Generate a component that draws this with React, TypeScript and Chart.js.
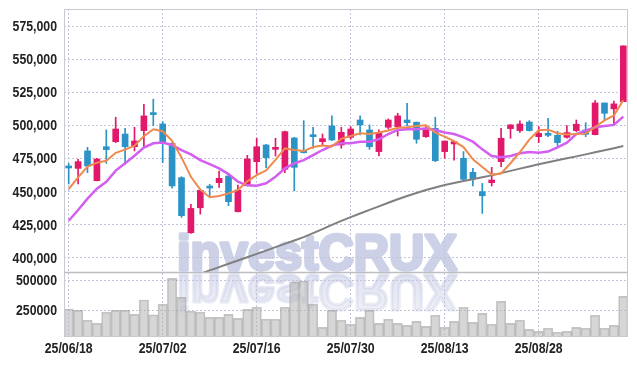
import React, { useEffect, useRef } from 'react';
import { Chart, registerables } from 'chart.js';

Chart.register(...registerables);

// ---- data ----
const DATES = [
  '25/06/18', '25/06/19', '25/06/20', '25/06/23', '25/06/24', '25/06/25', '25/06/26', '25/06/27', '25/06/30', '25/07/01',
  '25/07/02', '25/07/03', '25/07/04', '25/07/07', '25/07/08', '25/07/09', '25/07/10', '25/07/11', '25/07/14', '25/07/15',
  '25/07/16', '25/07/17', '25/07/18', '25/07/21', '25/07/22', '25/07/23', '25/07/24', '25/07/25', '25/07/28', '25/07/29',
  '25/07/30', '25/07/31', '25/08/01', '25/08/04', '25/08/05', '25/08/06', '25/08/07', '25/08/08', '25/08/11', '25/08/12',
  '25/08/13', '25/08/14', '25/08/18', '25/08/19', '25/08/20', '25/08/21', '25/08/22', '25/08/25', '25/08/26', '25/08/27',
  '25/08/28', '25/08/29', '25/09/01', '25/09/02', '25/09/03', '25/09/04', '25/09/05', '25/09/08', '25/09/09', '25/09/10',
];

const OPEN = [
  468200, 467400, 480600, 458100, 483800, 487600, 493400, 483800, 496000, 508600,
  501000, 486400, 460400, 418700, 437600, 453300, 456600, 461600, 434600, 454300,
  472500, 485100, 481800, 466700, 490400, 480800, 492700, 487600, 499500, 485100,
  490900, 504000, 496500, 480100, 498500, 499000, 504000, 502300, 491400, 497700,
  480100, 485900, 475000, 464400, 449800, 456600, 472500, 497500, 496000, 502500,
  491400, 493900, 492400, 490900, 496000, 496500, 492900, 516900, 512400, 517900,
];
const HIGH = [
  471200, 474300, 483300, 475000, 496500, 506100, 497700, 498500, 515900, 519700,
  502800, 486900, 461100, 440200, 451000, 455300, 465400, 462100, 454800, 477300,
  490200, 485600, 490200, 495700, 490900, 503500, 498500, 493400, 507100, 498500,
  499000, 507100, 500300, 496500, 504800, 509100, 516700, 502500, 499000, 506100,
  488100, 488100, 480100, 467400, 456100, 468200, 497700, 500500, 503300, 503500,
  499000, 505300, 495500, 499800, 504000, 502000, 518700, 516900, 518400, 560100,
];
const LOW = [
  455600, 455600, 464200, 458000, 471200, 486900, 470500, 480600, 483800, 499800,
  471700, 452500, 430300, 418200, 432800, 446000, 453000, 439200, 434400, 454100,
  463600, 467900, 476800, 464200, 450500, 479000, 482600, 485100, 488400, 482600,
  489400, 492700, 481800, 476800, 497200, 491900, 499500, 486400, 490900, 472500,
  475000, 473700, 458600, 454100, 433300, 454100, 468700, 490200, 494700, 495700,
  486900, 491400, 484400, 490200, 495200, 491400, 492700, 504000, 500300, 517900,
];
const CLOSE = [
  467700, 472500, 469200, 474500, 481600, 497200, 483800, 488100, 507100, 508100,
  487400, 454100, 431600, 437100, 450800, 452500, 459900, 442200, 451000, 474500,
  483800, 475500, 483300, 495200, 468200, 479300, 491400, 489900, 488900, 494700,
  497200, 500300, 483800, 493900, 504000, 507100, 502000, 489400, 497700, 473200,
  488100, 487600, 459100, 459600, 446700, 458600, 490200, 500300, 501000, 496000,
  493900, 492400, 486900, 494500, 500800, 493200, 516900, 509100, 516200, 560100,
];
const VOLUME = [
  261000, 250000, 168000, 143000, 234000, 250000, 250000, 217000, 335000, 212000,
  300000, 514000, 357000, 242000, 234000, 192000, 192000, 217000, 184000, 258000,
  275000, 176000, 176000, 275000, 484000, 492000, 300000, 110000, 250000, 168000,
  135000, 192000, 250000, 143000, 176000, 143000, 126000, 159000, 118000, 209000,
  110000, 159000, 275000, 151000, 225000, 135000, 324000, 143000, 168000, 93000,
  77000, 102000, 69000, 77000, 110000, 102000, 209000, 102000, 126000, 365000,
];
const MA5 = [
  451800, 460600, 468700, 471700, 473200, 479200, 481600, 484600, 491800, 497000,
  495500, 488300, 475700, 461000, 451300, 445600, 446500, 448500, 451100, 457600,
  462300, 465800, 473900, 482500, 481300, 480500, 483600, 484800, 484000, 489700,
  491900, 494000, 493400, 494600, 496100, 498100, 498600, 499500, 500100, 494500,
  491400, 488000, 483500, 474200, 468400, 462700, 463500, 471300, 479700, 489200,
  496300, 496700, 494000, 493000, 493500, 493700, 498700, 503700, 507500, 518900,
];
const MA10 = [
  427800, 435900, 444500, 452000, 457300, 465700, 471200, 477000, 483100, 486400,
  486900, 485100, 481300, 478000, 473700, 470700, 467400, 463100, 457300, 454600,
  454300, 456100, 461100, 467400, 471200, 473700, 477500, 481300, 484600, 486400,
  486400, 487600, 487600, 489400, 493400, 496500, 497000, 497000, 497500, 496500,
  494500, 493400, 490900, 487600, 481800, 476800, 475800, 476800, 478800, 479800,
  479300, 480100, 483300, 486900, 493400, 496000, 498500, 499500, 500300, 506600,
];
const MA60 = [
  null, null, null, null, null, null, null, null, null, null,
  null, null, null, 385200, 387700, 390200, 392700, 395200, 397700, 400200,
  402700, 405200, 407800, 410300, 412800, 415400, 418400, 421500, 424600, 427700,
  430500, 433300, 436000, 438700, 441400, 444000, 446500, 448800, 451000, 452900,
  454800, 456300, 457800, 459200, 460700, 462100, 463800, 465500, 467200, 468900,
  470600, 472000, 473500, 475000, 476500, 478000, 479600, 481100, 482700, 484300,
];
const PRICE_TICKS = [400000, 425000, 450000, 475000, 500000, 525000, 550000, 575000];
const VOLUME_TICKS = [250000, 500000];
const PRICE_MIN = 389000;
const PRICE_MAX = 588000;
const VOLUME_MIN = 30000;
const VOLUME_MAX = 566000;
const LABEL_EVERY = 10;
const WATERMARK = 'investCRUX';

// ---- styles ----
const UP = '#e2186b';
const DOWN = '#2b93c6';
const GRID = '#c3c3da';
const FRAME = '#c9c9cf';
const TEXT = '#222222';
const LABEL_FONT = 'bold 15px "Liberation Sans", Arial, sans-serif';
const NARROW = 0.82;

const fmtPrice = (v: number) => v.toLocaleString('en-US');
const fmtVolume = (v: number) => String(v);

const watermarkPlugin = {
  id: 'wm',
  beforeDraw(chart: any) {
    const { ctx } = chart;
    const py = chart.scales.y;
    const base = py.bottom - 2;
    const left = 169;
    ctx.save();
    ctx.font = 'bold 52px "Liberation Sans", Arial, sans-serif';
    ctx.textBaseline = 'alphabetic';
    ctx.lineJoin = 'round';
    const w = ctx.measureText(WATERMARK).width;
    const sx = 280 / w;
    const sy = 36 / (52 * 0.716);
    ctx.save();
    ctx.translate(left, base);
    ctx.scale(sx, sy);
    ctx.fillStyle = 'rgb(204,209,231)';
    ctx.strokeStyle = 'rgb(204,209,231)';
    ctx.lineWidth = 3.5;
    ctx.fillText(WATERMARK, 0, 0);
    ctx.strokeText(WATERMARK, 0, 0);
    ctx.restore();
    ctx.save();
    ctx.beginPath();
    ctx.rect(0, py.bottom, chart.width, 60);
    ctx.clip();
    ctx.translate(left, py.bottom + 3);
    ctx.scale(sx, -sy);
    const g = ctx.createLinearGradient(0, 0, 0, -40);
    g.addColorStop(0, 'rgba(204,209,231,0.6)');
    g.addColorStop(1, 'rgba(204,209,231,0.3)');
    ctx.fillStyle = g;
    ctx.strokeStyle = g;
    ctx.lineWidth = 3.5;
    ctx.fillText(WATERMARK, 0, 0);
    ctx.strokeText(WATERMARK, 0, 0);
    ctx.restore();
    ctx.restore();
  },
};

const framePlugin = {
  id: 'frame',
  afterDatasetsDraw(chart: any) {
    const { ctx, chartArea } = chart;
    const sep = chart.scales.y.bottom;
    const l = Math.round(chartArea.left) + 0.5;
    const r = Math.round(chartArea.right) - 0.5;
    const t = Math.round(chartArea.top) + 0.5;
    const b = Math.round(chartArea.bottom) - 0.5;
    const s = Math.round(sep) + 0.5;
    ctx.save();
    ctx.strokeStyle = FRAME;
    ctx.lineWidth = 1;
    ctx.beginPath();
    ctx.moveTo(l, t); ctx.lineTo(r, t);
    ctx.moveTo(l, t); ctx.lineTo(l, b);
    ctx.moveTo(r, t); ctx.lineTo(r, b);
    ctx.moveTo(l, b); ctx.lineTo(r, b);
    ctx.stroke();
    ctx.strokeStyle = '#bdbdc2';
    ctx.lineWidth = 1.5;
    ctx.beginPath();
    ctx.moveTo(l, s); ctx.lineTo(r, s);
    ctx.stroke();
    ctx.restore();
  },
};

// tick labels drawn in a narrow face (horizontally condensed), positioned by the scales
const labelPlugin = {
  id: 'narrowLabels',
  afterDraw(chart: any) {
    const { ctx, chartArea } = chart;
    const put = (text: string, x: number, y: number, align: CanvasTextAlign) => {
      ctx.save();
      ctx.translate(x, y);
      ctx.scale(NARROW, 1);
      ctx.textAlign = align;
      ctx.textBaseline = 'middle';
      ctx.fillText(text, 0, 0);
      ctx.restore();
    };
    ctx.save();
    ctx.font = LABEL_FONT;
    ctx.fillStyle = TEXT;
    const py = chart.scales.y;
    const vy = chart.scales.yv;
    const xs = chart.scales.x;
    const lx = chartArea.left - 7;
    PRICE_TICKS.forEach((v) => put(fmtPrice(v), lx, py.getPixelForValue(v) + 1, 'right'));
    VOLUME_TICKS.forEach((v) => put(fmtVolume(v), lx, vy.getPixelForValue(v) + 1, 'right'));
    DATES.forEach((d, i) => {
      if (i % LABEL_EVERY === 0) put(d, xs.getPixelForValue(i), chartArea.bottom + 12, 'center');
    });
    ctx.restore();
  },
};

export default function App() {
  const ref = useRef<HTMLCanvasElement>(null);
  useEffect(() => {
    if (!ref.current) return;
    const candleColors = CLOSE.map((c, i) => (c >= OPEN[i] ? UP : DOWN));
    const chart = new Chart(ref.current, {
      type: 'bar',
      data: {
        labels: DATES,
        datasets: [
          {
            type: 'line', label: 'MA5', data: MA5, borderColor: '#ef8a4e', borderWidth: 2,
            pointRadius: 0, yAxisID: 'y', order: 0, tension: 0,
          } as any,
          {
            type: 'line', label: 'MA10', data: MA10, borderColor: '#d35ef0', borderWidth: 2.5,
            pointRadius: 0, yAxisID: 'y', order: 0, tension: 0,
          } as any,
          {
            type: 'line', label: 'MA60', data: MA60, borderColor: '#808080', borderWidth: 2,
            pointRadius: 0, yAxisID: 'y', order: 0, tension: 0,
          } as any,
          {
            type: 'bar', label: 'body', data: OPEN.map((o, i) => [o, CLOSE[i]]),
            backgroundColor: candleColors, barThickness: 6, grouped: false, yAxisID: 'y',
            order: 1, minBarLength: 2,
          } as any,
          {
            type: 'bar', label: 'wick', data: LOW.map((l, i) => [l, HIGH[i]]),
            backgroundColor: candleColors, barThickness: 1, grouped: false, yAxisID: 'y', order: 2,
          } as any,
          {
            type: 'bar', label: 'volume', data: VOLUME,
            backgroundColor: 'rgba(180,180,180,0.55)', borderColor: 'rgba(150,150,150,0.55)',
            borderWidth: 1, barPercentage: 1, categoryPercentage: 1, grouped: false,
            yAxisID: 'yv', order: 3,
          } as any,
        ],
      },
      options: {
        animation: false,
        responsive: true,
        maintainAspectRatio: false,
        layout: { padding: { top: 1, right: 1, left: 0, bottom: 0 } },
        plugins: { legend: { display: false }, tooltip: { enabled: false } },
        scales: {
          x: {
            type: 'category',
            offset: true,
            afterFit: (s: any) => { s.height = 21; },
            grid: {
              offset: false,
              drawTicks: false,
              color: (c: any) => (c.index % LABEL_EVERY === 0 ? GRID : 'transparent'),
            },
            border: { display: false, dash: [2, 2] },
            ticks: { display: false, autoSkip: false },
          },
          yv: {
            type: 'linear', position: 'left', stack: 'panels', stackWeight: 65,
            min: VOLUME_MIN, max: VOLUME_MAX,
            afterBuildTicks: (s: any) => { s.ticks = VOLUME_TICKS.map((v) => ({ value: v })); },
            afterFit: (s: any) => { s.width = 56; },
            grid: { color: GRID, drawTicks: false },
            border: { display: false, dash: [2, 2] },
            ticks: { display: false, autoSkip: false },
          },
          y: {
            type: 'linear', position: 'left', stack: 'panels', stackWeight: 263,
            min: PRICE_MIN, max: PRICE_MAX,
            afterBuildTicks: (s: any) => { s.ticks = PRICE_TICKS.map((v) => ({ value: v })); },
            afterFit: (s: any) => { s.width = 56; },
            grid: { color: GRID, drawTicks: false },
            border: { display: false, dash: [2, 2] },
            ticks: { display: false, autoSkip: false },
          },
        } as any,
      },
      plugins: [watermarkPlugin, framePlugin, labelPlugin],
    });
    return () => chart.destroy();
  }, []);

  return (
    <div style={{ position: 'relative', width: 621, height: 350 }}>
      <canvas ref={ref} />
    </div>
  );
}
